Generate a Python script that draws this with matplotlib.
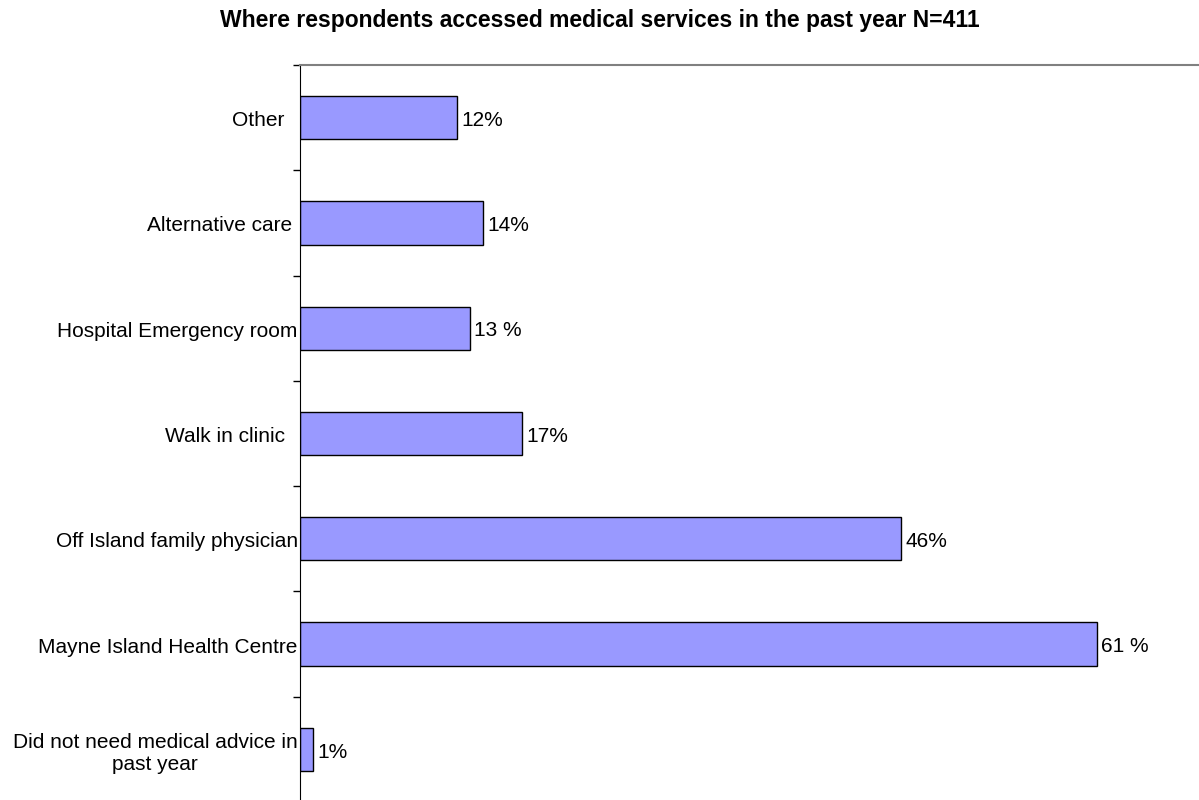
import matplotlib.pyplot as plt
import matplotlib.transforms as mtransforms
import numpy as np

plt.rcParams['font.family'] = ['Liberation Sans', 'DejaVu Sans']

# categories from bottom to top
categories = ['Did not need medical advice in\npast year',
              'Mayne Island Health Centre',
              'Off Island family physician',
              'Walk in clinic',
              'Hospital Emergency room',
              'Alternative care',
              'Other']
percents = [1, 61, 46, 17, 13, 14, 12]
value_labels = ['1%', '61 %', '46%', '17%', '13 %', '14%', '12%']

fig = plt.figure(figsize=(11.99, 8.0), dpi=100)
ax = fig.add_axes([300 / 1199, 1 - 802 / 800, 899 / 1199, 737 / 800])

y = np.arange(len(categories))
ax.barh(y, percents, height=0.41, color='#9999FF', edgecolor='black', linewidth=1)

for yi, v, lab in zip(y, percents, value_labels):
    ax.annotate(lab, (v, yi), xytext=(3, -2), textcoords='offset points',
                va='center', ha='left', fontsize=15)

ax.set_xlim(0, 899 / 13.07)
ax.set_ylim(-0.5, len(categories) - 0.5)

ax.set_yticks(y)
ax.set_yticklabels(categories, fontsize=15, multialignment='center')
ax.set_yticks(np.arange(len(categories) + 1) - 0.5, minor=True)
ax.tick_params(axis='y', which='major', length=0, pad=11)
ax.tick_params(axis='y', which='minor', length=5, width=1, direction='out')
ax.set_xticks([])

# longer labels run further right, up to the axis line
shift_px = [13, 13, 13, 0, 13, 7, 0]
for lbl, dx in zip(ax.get_yticklabels(), shift_px):
    lbl.set_transform(lbl.get_transform() +
                      mtransforms.ScaledTranslation(dx / 100, -1 / 100, fig.dpi_scale_trans))

ax.spines['right'].set_visible(False)
ax.spines['bottom'].set_visible(False)
ax.spines['top'].set_color('#808080')
ax.spines['top'].set_linewidth(1.5)
ax.spines['left'].set_color('black')

fig.text(0.5, 1 - 20 / 800, 'Where respondents accessed medical services in the past year N=411',
         ha='center', va='center', fontsize=16.5, fontweight='bold')

fig.savefig('out.png', dpi=100)
